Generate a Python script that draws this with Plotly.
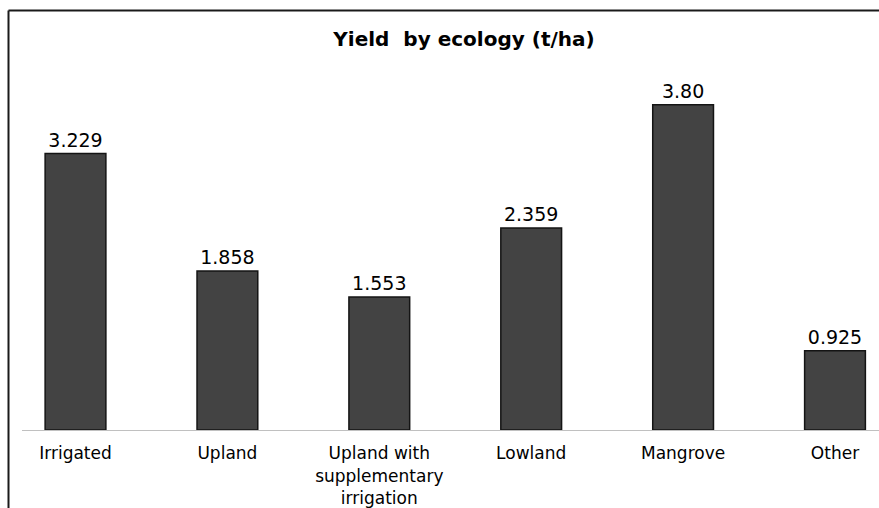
import plotly.graph_objects as go

categories = ["Irrigated", "Upland", "Upland with<br>supplementary<br>irrigation", "Lowland", "Mangrove", "Other"]
values = [3.229, 1.858, 1.553, 2.359, 3.80, 0.925]
value_labels = ["3.229", "1.858", "1.553", "2.359", "3.80", "0.925"]

W, H = 879, 508
ml, mr, mt, mb = 22, 0, 60, 78
plot_w = W - ml - mr
plot_h = H - mt - mb

# x range so category centres sit at the reference pixel positions
px_per_cat = 151.9
first_center_px = 75.5
x0 = -(first_center_px - ml) / px_per_cat
x1 = x0 + plot_w / px_per_cat
px_per_unit = 85.6
y1 = plot_h / px_per_unit

fig = go.Figure()
fig.add_trace(go.Bar(
    x=list(range(len(categories))),
    y=values,
    width=0.40,
    text=value_labels,
    textposition="outside",
    cliponaxis=False,
    textfont=dict(family="DejaVu Sans", size=19, color="#000000"),
    marker=dict(color="#434343", line=dict(color="#141414", width=1.5)),
    hoverinfo="skip",
))

def px_to_paper_x(px):
    return (px - ml) / plot_w

def px_to_paper_y(py):
    return (H - mb - py) / plot_h

frame_left = px_to_paper_x(8.5)
frame_top = px_to_paper_y(10.5)

fig.update_layout(
    width=W, height=H,
    margin=dict(l=ml, r=mr, t=mt, b=mb, pad=0, autoexpand=False),
    paper_bgcolor="white",
    plot_bgcolor="white",
    showlegend=False,
    title=dict(
        text="<b>Yield  by ecology (t/ha)</b>",
        font=dict(family="DejaVu Sans", size=20, color="#000000"),
        x=464 / W, xref="container", xanchor="center",
        y=1 - 38.5 / H, yref="container", yanchor="middle",
    ),
    xaxis=dict(
        range=[x0, x1],
        tickmode="array",
        tickvals=list(range(len(categories))),
        ticktext=categories,
        tickfont=dict(family="DejaVu Sans", size=17, color="#000000"),
        ticks="outside", ticklen=8, tickcolor="rgba(0,0,0,0)",
        showgrid=False, zeroline=False,
        showline=True, linecolor="#c0c0c0", linewidth=1,
        fixedrange=True, automargin=False,
    ),
    yaxis=dict(
        range=[0, y1],
        visible=False,
        showgrid=False, zeroline=False,
        fixedrange=True, automargin=False,
    ),
    shapes=[
        dict(type="line", xref="paper", yref="paper",
             x0=frame_left, x1=frame_left, y0=frame_top, y1=px_to_paper_y(H + 5),
             line=dict(color="#1a1a1a", width=2)),
        dict(type="line", xref="paper", yref="paper",
             x0=frame_left, x1=px_to_paper_x(W + 5), y0=frame_top, y1=frame_top,
             line=dict(color="#1a1a1a", width=2)),
    ],
)

fig.write_html(
    "out.html",
    config={"displayModeBar": False},
    post_script="document.body.style.margin='0';document.body.style.overflow='hidden';",
)
